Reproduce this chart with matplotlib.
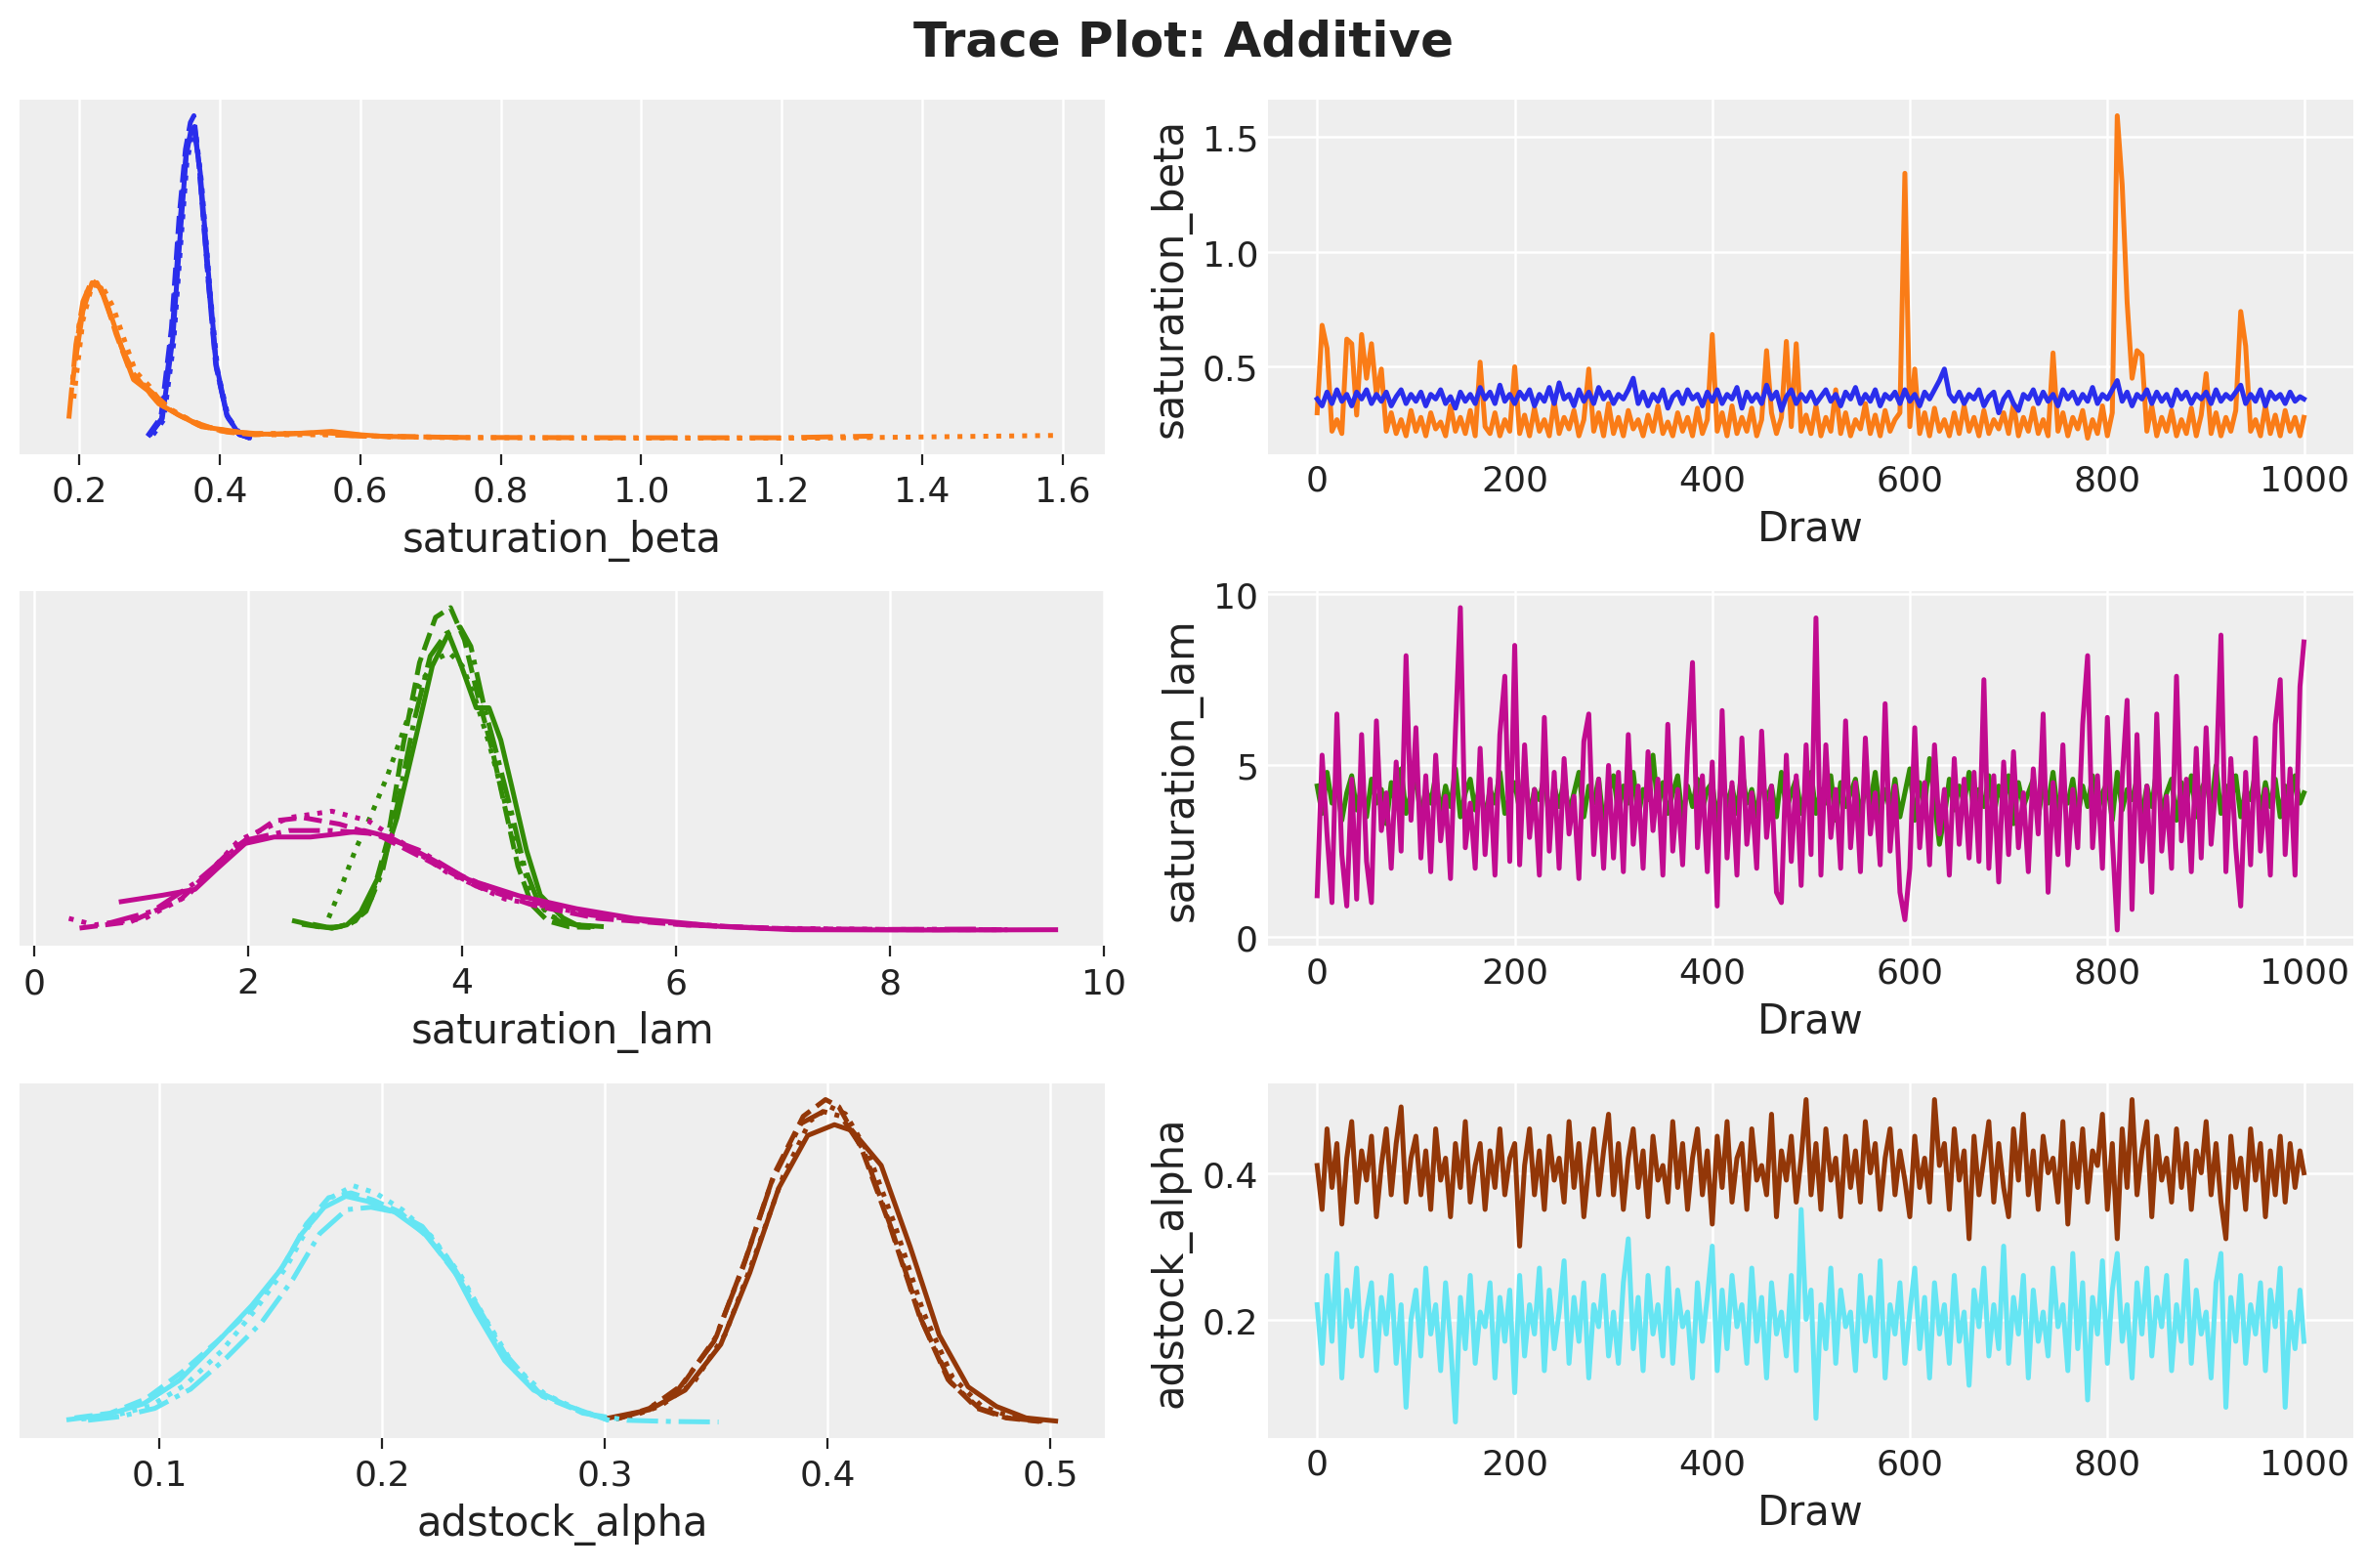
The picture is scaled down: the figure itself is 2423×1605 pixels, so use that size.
import matplotlib
matplotlib.use("Agg")
import matplotlib.pyplot as plt

# chain line styles (4 chains)
chain_styles = ["-", "--", ":", "-."]
colors = ["#2a2eec", "#fa7c17", "#328c06", "#c10c90", "#933708", "#65e5f3"]

var_names = ["saturation_beta", "saturation_lam", "adstock_alpha"]

# ---- KDE curves: per channel, 4 chains of (x, density)
beta_c0_x = [
    [0.300, 0.318, 0.333, 0.344, 0.352, 0.359, 0.364, 0.372, 0.385, 0.395, 0.410, 0.426, 0.440],
    [0.297, 0.316, 0.331, 0.342, 0.351, 0.358, 0.363, 0.370, 0.383, 0.394, 0.410, 0.428, 0.445],
    [0.305, 0.320, 0.334, 0.345, 0.353, 0.360, 0.366, 0.374, 0.386, 0.397, 0.412, 0.430, 0.450],
    [0.300, 0.317, 0.332, 0.343, 0.352, 0.359, 0.364, 0.371, 0.384, 0.395, 0.410, 0.427, 0.442],
]
beta_c0_d = [
    [0.3, 1.5, 7.5, 15.5, 21.0, 23.0, 22.8, 19.8, 11.5, 5.5, 1.8, 0.4, 0.1],
    [0.2, 1.6, 8.2, 16.5, 21.5, 23.5, 24.0, 20.5, 12.0, 5.5, 1.7, 0.3, 0.05],
    [0.3, 1.4, 7.0, 15.0, 20.5, 22.5, 22.6, 19.0, 11.0, 5.0, 1.6, 0.3, 0.05],
    [0.25, 1.5, 7.8, 16.0, 21.2, 22.8, 23.2, 20.0, 11.4, 5.3, 1.7, 0.35, 0.08],
]
beta_c1_x = [
    [0.195, 0.205, 0.218, 0.231, 0.246, 0.262, 0.277, 0.297, 0.313, 0.344, 0.374, 0.415, 0.446, 0.497, 0.559, 0.60, 0.64],
    [0.19, 0.20, 0.212, 0.225, 0.238, 0.252, 0.27, 0.29, 0.31, 0.34, 0.37, 0.41, 0.45, 0.50, 0.55, 0.62, 0.74],
    [0.192, 0.205, 0.218, 0.232, 0.248, 0.265, 0.28, 0.30, 0.32, 0.35, 0.38, 0.42, 0.47, 0.55, 0.70, 0.95, 1.25, 1.59],
    [0.185, 0.195, 0.205, 0.218, 0.23, 0.245, 0.26, 0.28, 0.30, 0.33, 0.36, 0.40, 0.45, 0.52, 0.60, 0.75, 1.0, 1.2, 1.33],
]
beta_c1_d = [
    [6.0, 9.5, 11.6, 11.2, 9.0, 6.5, 4.4, 3.6, 2.6, 1.7, 0.9, 0.6, 0.35, 0.35, 0.55, 0.3, 0.15],
    [4.0, 8.5, 11.2, 11.6, 10.2, 7.8, 5.3, 4.0, 2.8, 1.8, 1.0, 0.5, 0.3, 0.4, 0.45, 0.2, 0.1],
    [3.0, 8.8, 11.4, 11.4, 9.8, 7.2, 5.0, 3.9, 2.4, 1.6, 0.9, 0.5, 0.3, 0.3, 0.1, 0.05, 0.05, 0.25],
    [1.5, 7.0, 10.2, 11.8, 11.2, 9.0, 6.8, 4.6, 3.6, 2.2, 1.3, 0.6, 0.4, 0.4, 0.2, 0.1, 0.08, 0.08, 0.2],
]

lam_c0_x = [
    [2.43, 2.65, 2.78, 2.92, 3.05, 3.22, 3.39, 3.56, 3.72, 3.87, 3.99, 4.13, 4.25, 4.36, 4.46, 4.60, 4.73, 4.94, 5.07, 5.30],
    [2.50, 2.70, 2.85, 3.00, 3.15, 3.30, 3.45, 3.60, 3.75, 3.89, 4.02, 4.15, 4.28, 4.40, 4.52, 4.65, 4.80, 5.00, 5.20],
    [2.75, 2.85, 3.00, 3.15, 3.30, 3.45, 3.60, 3.75, 3.88, 4.00, 4.12, 4.25, 4.38, 4.50, 4.65, 4.80, 5.00, 5.20],
    [2.60, 2.78, 2.95, 3.10, 3.25, 3.40, 3.55, 3.70, 3.85, 3.98, 4.08, 4.20, 4.32, 4.45, 4.58, 4.72, 4.90, 5.10, 5.28],
]
lam_c0_d = [
    [0.03, 0.013, 0.008, 0.018, 0.058, 0.17, 0.35, 0.59, 0.82, 0.92, 0.82, 0.69, 0.69, 0.59, 0.45, 0.25, 0.11, 0.04, 0.018, 0.013],
    [0.02, 0.01, 0.012, 0.03, 0.10, 0.28, 0.58, 0.83, 0.97, 1.0, 0.90, 0.72, 0.56, 0.38, 0.20, 0.08, 0.03, 0.012, 0.01],
    [0.04, 0.12, 0.25, 0.36, 0.48, 0.62, 0.76, 0.84, 0.86, 0.82, 0.72, 0.58, 0.42, 0.26, 0.12, 0.05, 0.02, 0.015],
    [0.02, 0.008, 0.02, 0.06, 0.18, 0.40, 0.65, 0.85, 0.92, 0.94, 0.88, 0.70, 0.55, 0.38, 0.20, 0.08, 0.03, 0.015, 0.012],
]
lam_c1_x = [
    [0.81, 1.20, 1.50, 1.70, 1.97, 2.24, 2.58, 2.85, 3.08, 3.32, 3.72, 4.06, 4.53, 5.07, 5.61, 6.42, 7.09, 8.44, 9.55],
    [0.42, 0.90, 1.37, 1.84, 2.24, 2.51, 2.85, 3.25, 3.72, 4.13, 4.67, 5.27, 6.08, 7.2, 8.3, 9.1],
    [0.32, 0.56, 1.03, 1.43, 1.91, 2.38, 2.78, 3.12, 3.45, 3.86, 4.40, 5.07, 5.74, 6.75, 8.0, 9.1],
    [0.69, 1.10, 1.50, 1.97, 2.38, 2.78, 3.19, 3.59, 3.99, 4.53, 5.21, 6.08, 7.0, 8.0, 8.84],
]
lam_c1_d = [
    [0.09, 0.11, 0.128, 0.19, 0.27, 0.29, 0.29, 0.30, 0.31, 0.29, 0.22, 0.158, 0.108, 0.068, 0.038, 0.013, 0.003, 0.002, 0.003],
    [0.008, 0.028, 0.098, 0.25, 0.34, 0.35, 0.33, 0.29, 0.21, 0.138, 0.078, 0.038, 0.018, 0.004, 0.003, 0.003],
    [0.038, 0.018, 0.038, 0.108, 0.28, 0.35, 0.37, 0.34, 0.27, 0.18, 0.098, 0.058, 0.028, 0.008, 0.004, 0.003],
    [0.023, 0.06, 0.148, 0.28, 0.31, 0.31, 0.30, 0.25, 0.17, 0.098, 0.048, 0.018, 0.006, 0.004, 0.005],
]

alpha_c0_x = [
    [0.302, 0.32, 0.336, 0.352, 0.365, 0.378, 0.391, 0.403, 0.411, 0.424, 0.437, 0.45, 0.463, 0.4757, 0.489, 0.5023],
    [0.305, 0.32, 0.335, 0.35, 0.363, 0.376, 0.389, 0.399, 0.405, 0.415, 0.428, 0.441, 0.454, 0.467, 0.48, 0.495],
    [0.31, 0.325, 0.34, 0.354, 0.367, 0.38, 0.392, 0.401, 0.408, 0.418, 0.43, 0.443, 0.456, 0.469, 0.482, 0.5],
    [0.305, 0.318, 0.333, 0.349, 0.362, 0.375, 0.388, 0.398, 0.406, 0.416, 0.429, 0.442, 0.455, 0.468, 0.481, 0.496],
]
alpha_c0_d = [
    [0.2, 0.54, 1.36, 3.27, 6.26, 9.8, 12.0, 12.45, 12.2, 10.75, 7.35, 3.67, 1.5, 0.68, 0.2, 0.07],
    [0.15, 0.6, 1.6, 3.6, 6.8, 10.4, 12.8, 13.5, 13.2, 11.5, 8.2, 4.5, 1.8, 0.6, 0.2, 0.05],
    [0.2, 0.7, 1.7, 3.7, 6.9, 10.3, 12.6, 13.2, 12.9, 11.3, 8.3, 4.6, 1.9, 0.7, 0.25, 0.05],
    [0.15, 0.5, 1.4, 3.4, 6.5, 10.1, 12.5, 13.0, 12.8, 11.4, 8.0, 4.3, 1.7, 0.6, 0.2, 0.06],
]
alpha_c1_x = [
    [0.0594, 0.0766, 0.0929, 0.109, 0.125, 0.1415, 0.1545, 0.164, 0.174, 0.1837, 0.1934, 0.206, 0.219, 0.232, 0.242, 0.255, 0.268, 0.284, 0.3005],
    [0.062, 0.078, 0.094, 0.11, 0.126, 0.142, 0.156, 0.166, 0.176, 0.186, 0.196, 0.208, 0.221, 0.234, 0.245, 0.258, 0.272, 0.288, 0.302],
    [0.065, 0.08, 0.096, 0.112, 0.128, 0.143, 0.157, 0.167, 0.177, 0.187, 0.197, 0.209, 0.222, 0.235, 0.246, 0.259, 0.273, 0.289, 0.300],
    [0.068, 0.082, 0.098, 0.114, 0.13, 0.146, 0.16, 0.172, 0.184, 0.195, 0.206, 0.218, 0.23, 0.242, 0.255, 0.27, 0.29, 0.31, 0.33, 0.351],
]
alpha_c1_d = [
    [0.13, 0.33, 0.79, 1.77, 3.27, 4.9, 6.4, 7.9, 9.0, 9.46, 9.25, 8.78, 7.9, 6.4, 4.63, 2.59, 1.36, 0.68, 0.136],
    [0.2, 0.4, 1.0, 2.1, 3.4, 4.8, 6.6, 8.3, 9.4, 9.6, 9.3, 8.8, 7.7, 6.1, 4.3, 2.3, 1.1, 0.5, 0.1],
    [0.15, 0.3, 0.7, 1.6, 3.0, 4.7, 6.5, 8.2, 9.4, 9.9, 9.6, 8.9, 7.8, 6.2, 4.4, 2.4, 1.2, 0.5, 0.2],
    [0.1, 0.25, 0.6, 1.4, 2.7, 4.2, 6.0, 7.9, 8.9, 9.0, 8.8, 8.2, 6.8, 5.0, 2.9, 1.3, 0.4, 0.1, 0.05, 0.03],
]

# ---- traces (values every 5 draws, last at draw 999)
draws = list(range(0, 1000, 5)) + [999]

beta_c0_trace = [
    0.36, 0.33, 0.39, 0.34, 0.40, 0.35, 0.38, 0.33, 0.39, 0.36, 0.40, 0.34, 0.38, 0.35, 0.39, 0.33, 0.37, 0.40, 0.34, 0.38,
    0.35, 0.39, 0.33, 0.38, 0.36, 0.40, 0.34, 0.37, 0.32, 0.39, 0.35, 0.38, 0.34, 0.41, 0.36, 0.39, 0.34, 0.42, 0.35, 0.38,
    0.34, 0.39, 0.36, 0.40, 0.33, 0.38, 0.35, 0.41, 0.34, 0.43, 0.36, 0.38, 0.33, 0.40, 0.35, 0.39, 0.34, 0.41, 0.36, 0.39,
    0.34, 0.38, 0.36, 0.40, 0.45, 0.34, 0.39, 0.33, 0.38, 0.35, 0.40, 0.32, 0.37, 0.39, 0.34, 0.40, 0.36, 0.38, 0.33, 0.39,
    0.35, 0.40, 0.34, 0.38, 0.36, 0.41, 0.32, 0.39, 0.35, 0.38, 0.34, 0.42, 0.36, 0.39, 0.31, 0.37, 0.40, 0.34, 0.38, 0.35,
    0.39, 0.34, 0.37, 0.40, 0.35, 0.38, 0.33, 0.39, 0.36, 0.41, 0.34, 0.38, 0.35, 0.40, 0.33, 0.38, 0.36, 0.39, 0.34, 0.40,
    0.35, 0.38, 0.33, 0.39, 0.36, 0.40, 0.44, 0.49, 0.38, 0.35, 0.39, 0.34, 0.38, 0.36, 0.40, 0.33, 0.37, 0.39, 0.30, 0.36,
    0.39, 0.34, 0.31, 0.38, 0.36, 0.40, 0.34, 0.39, 0.35, 0.38, 0.33, 0.40, 0.36, 0.39, 0.34, 0.38, 0.35, 0.41, 0.34, 0.38,
    0.36, 0.40, 0.44, 0.35, 0.39, 0.33, 0.38, 0.36, 0.40, 0.34, 0.39, 0.35, 0.38, 0.33, 0.40, 0.36, 0.39, 0.34, 0.38, 0.36,
    0.39, 0.34, 0.40, 0.35, 0.38, 0.36, 0.39, 0.42, 0.34, 0.38, 0.35, 0.40, 0.33, 0.39, 0.36, 0.38, 0.34, 0.39, 0.35, 0.37,
    0.36,
]
beta_c1_trace = [
    0.30, 0.68, 0.58, 0.22, 0.27, 0.21, 0.62, 0.60, 0.29, 0.64, 0.45, 0.60, 0.38, 0.49, 0.22, 0.30, 0.21, 0.27, 0.20, 0.31,
    0.22, 0.28, 0.20, 0.30, 0.23, 0.26, 0.20, 0.33, 0.22, 0.28, 0.21, 0.31, 0.20, 0.52, 0.24, 0.21, 0.30, 0.20, 0.27, 0.22,
    0.50, 0.21, 0.29, 0.20, 0.32, 0.22, 0.27, 0.20, 0.35, 0.21, 0.28, 0.23, 0.31, 0.20, 0.27, 0.49, 0.22, 0.30, 0.20, 0.34,
    0.21, 0.28, 0.20, 0.31, 0.23, 0.27, 0.20, 0.29, 0.22, 0.33, 0.21, 0.26, 0.20, 0.30, 0.22, 0.28, 0.20, 0.32, 0.21, 0.27,
    0.64, 0.22, 0.30, 0.20, 0.33, 0.21, 0.28, 0.22, 0.32, 0.20, 0.27, 0.57, 0.30, 0.21, 0.28, 0.61, 0.24, 0.60, 0.22, 0.29,
    0.21, 0.33, 0.20, 0.28, 0.22, 0.40, 0.21, 0.30, 0.20, 0.27, 0.23, 0.34, 0.21, 0.29, 0.20, 0.31, 0.22, 0.27, 0.30, 1.34,
    0.24, 0.49, 0.21, 0.30, 0.20, 0.32, 0.22, 0.27, 0.20, 0.30, 0.21, 0.33, 0.22, 0.28, 0.20, 0.31, 0.21, 0.27, 0.23, 0.30,
    0.21, 0.34, 0.20, 0.28, 0.22, 0.32, 0.21, 0.27, 0.20, 0.56, 0.22, 0.30, 0.20, 0.28, 0.23, 0.31, 0.19, 0.27, 0.21, 0.33,
    0.20, 0.30, 1.59, 1.29, 0.78, 0.45, 0.57, 0.55, 0.22, 0.33, 0.20, 0.28, 0.22, 0.31, 0.20, 0.27, 0.21, 0.32, 0.20, 0.29,
    0.47, 0.21, 0.30, 0.20, 0.28, 0.22, 0.31, 0.74, 0.59, 0.22, 0.27, 0.20, 0.33, 0.21, 0.29, 0.20, 0.31, 0.22, 0.28, 0.20,
    0.28,
]
lam_c0_trace = [
    4.4, 3.6, 4.8, 3.9, 4.5, 3.4, 4.2, 4.7, 3.7, 4.4, 3.5, 4.6, 3.9, 4.3, 3.3, 4.5, 3.8, 4.9, 3.6, 4.2,
    4.6, 3.5, 4.3, 3.9, 4.7, 3.6, 4.4, 3.8, 4.9, 3.5, 4.2, 4.6, 3.7, 4.5, 3.4, 4.3, 3.9, 4.8, 3.6, 4.1,
    4.5, 3.7, 4.9, 3.5, 4.3, 4.0, 4.7, 3.4, 4.4, 3.8, 4.6, 3.6, 4.2, 4.8, 3.5, 4.4, 3.9, 4.6, 3.3, 4.2,
    4.7, 3.6, 4.4, 3.9, 4.8, 3.5, 4.3, 4.0, 5.3, 3.7, 4.5, 3.6, 4.2, 4.7, 3.4, 4.4, 3.8, 4.6, 3.7, 4.3,
    4.5, 3.3, 4.7, 3.8, 4.4, 3.6, 4.9, 3.9, 4.3, 3.5, 4.6, 4.0, 4.4, 3.5, 4.8, 3.7, 4.2, 4.6, 3.6, 4.4,
    4.8, 3.6, 4.3, 3.9, 4.7, 3.4, 4.5, 3.8, 4.2, 4.6, 3.5, 4.4, 3.9, 4.8, 3.6, 4.3, 3.7, 4.6, 3.5, 4.2,
    4.9, 3.4, 4.5, 3.8, 5.2, 3.9, 2.7, 3.5, 4.6, 3.7, 4.4, 3.9, 4.8, 3.6, 4.3, 3.8, 4.7, 3.5, 4.4, 3.9,
    4.7, 3.3, 4.5, 3.8, 4.2, 4.6, 3.5, 4.4, 3.9, 4.8, 3.6, 4.3, 3.9, 4.6, 3.5, 4.4, 3.8, 4.7, 3.6, 4.2,
    4.5, 3.4, 4.8, 3.7, 4.3, 4.0, 4.6, 3.5, 4.4, 3.8, 4.9, 3.6, 4.2, 4.6, 3.4, 4.5, 3.9, 4.7, 3.5, 4.3,
    4.6, 3.7, 5.0, 3.6, 4.4, 3.9, 4.7, 3.5, 4.3, 4.0, 4.8, 3.6, 4.5, 3.8, 4.6, 3.5, 4.4, 3.9, 4.7, 3.9,
    4.2,
]
lam_c1_trace = [
    1.2, 5.3, 3.0, 1.0, 6.5, 2.4, 0.9, 4.6, 1.1, 5.9, 2.2, 1.0, 6.3, 3.1, 4.2, 2.0, 5.1, 2.5, 8.2, 3.4,
    6.1, 2.3, 4.7, 1.9, 5.3, 2.8, 4.1, 1.7, 6.0, 9.6, 2.6, 3.9, 2.0, 5.5, 2.4, 4.6, 1.8, 5.9, 7.6, 2.2,
    8.5, 2.1, 5.6, 2.9, 4.3, 1.8, 6.4, 2.5, 4.8, 2.0, 5.2, 3.0, 4.1, 1.7, 5.7, 6.5, 2.4, 4.6, 2.0, 5.0,
    2.3, 4.8, 1.9, 5.9, 2.7, 4.4, 2.0, 5.4, 3.1, 4.6, 1.8, 6.2, 2.5, 4.3, 2.1, 5.5, 8.0, 2.6, 4.7, 1.9,
    5.1, 0.9, 6.6, 2.3, 4.5, 1.8, 5.8, 2.7, 4.2, 2.0, 6.0, 2.9, 4.4, 1.3, 1.0, 5.3, 2.2, 4.7, 1.5, 5.6,
    2.4, 9.3, 1.8, 5.6, 2.9, 4.3, 2.0, 6.3, 2.6, 4.5, 1.9, 5.8, 3.0, 4.2, 2.1, 6.8, 2.5, 4.4, 1.3, 0.5,
    2.0, 6.1, 2.6, 4.5, 2.1, 5.6, 3.0, 4.3, 1.8, 5.2, 2.7, 4.6, 2.3, 4.8, 2.2, 7.5, 2.0, 4.7, 1.6, 5.1,
    2.4, 5.4, 2.6, 4.2, 1.9, 4.9, 3.0, 6.5, 1.3, 4.5, 2.4, 5.6, 2.1, 4.3, 2.6, 6.2, 8.2, 2.6, 4.7, 2.0,
    6.4, 2.9, 0.2, 4.6, 6.9, 0.8, 5.9, 2.2, 4.4, 1.3, 6.5, 2.5, 4.1, 2.0, 7.6, 2.8, 4.6, 1.9, 5.5, 2.3,
    6.1, 2.7, 4.5, 8.8, 1.9, 5.2, 2.6, 0.9, 4.8, 2.1, 5.8, 2.5, 4.3, 1.8, 6.2, 7.5, 2.4, 4.9, 1.8, 7.3,
    8.6,
]
alpha_c0_trace = [
    0.41, 0.35, 0.46, 0.38, 0.44, 0.33, 0.42, 0.47, 0.36, 0.43, 0.39, 0.45, 0.34, 0.41, 0.46, 0.37, 0.44, 0.49, 0.36, 0.42,
    0.45, 0.37, 0.43, 0.35, 0.46, 0.39, 0.42, 0.34, 0.44, 0.38, 0.47, 0.36, 0.41, 0.44, 0.35, 0.43, 0.38, 0.46, 0.37, 0.42,
    0.44, 0.30, 0.41, 0.46, 0.37, 0.43, 0.35, 0.45, 0.39, 0.42, 0.36, 0.47, 0.38, 0.44, 0.34, 0.41, 0.46, 0.37, 0.43, 0.48,
    0.37, 0.44, 0.35, 0.42, 0.46, 0.38, 0.43, 0.34, 0.45, 0.39, 0.41, 0.36, 0.47, 0.38, 0.44, 0.35, 0.42, 0.46, 0.37, 0.43,
    0.33, 0.45, 0.38, 0.47, 0.36, 0.42, 0.44, 0.35, 0.46, 0.39, 0.41, 0.37, 0.48, 0.34, 0.43, 0.39, 0.45, 0.36, 0.42, 0.50,
    0.37, 0.44, 0.35, 0.46, 0.39, 0.42, 0.34, 0.45, 0.38, 0.43, 0.36, 0.47, 0.40, 0.44, 0.35, 0.42, 0.46, 0.37, 0.43, 0.39,
    0.34, 0.45, 0.38, 0.42, 0.36, 0.50, 0.41, 0.44, 0.35, 0.46, 0.39, 0.43, 0.31, 0.45, 0.37, 0.42, 0.47, 0.36, 0.44, 0.38,
    0.34, 0.46, 0.39, 0.48, 0.37, 0.43, 0.35, 0.45, 0.40, 0.42, 0.36, 0.47, 0.33, 0.44, 0.38, 0.46, 0.36, 0.43, 0.41, 0.48,
    0.35, 0.44, 0.31, 0.46, 0.38, 0.50, 0.37, 0.43, 0.47, 0.34, 0.45, 0.39, 0.42, 0.36, 0.46, 0.38, 0.44, 0.35, 0.43, 0.40,
    0.47, 0.37, 0.44, 0.36, 0.31, 0.45, 0.38, 0.42, 0.35, 0.46, 0.39, 0.44, 0.34, 0.43, 0.37, 0.45, 0.36, 0.44, 0.38, 0.43,
    0.40,
]
alpha_c1_trace = [
    0.22, 0.14, 0.26, 0.17, 0.29, 0.12, 0.24, 0.19, 0.27, 0.15, 0.21, 0.25, 0.13, 0.23, 0.18, 0.26, 0.14, 0.22, 0.08, 0.20,
    0.24, 0.15, 0.27, 0.18, 0.22, 0.13, 0.25, 0.17, 0.06, 0.23, 0.16, 0.26, 0.14, 0.21, 0.19, 0.25, 0.12, 0.23, 0.17, 0.24,
    0.10, 0.26, 0.15, 0.22, 0.18, 0.27, 0.13, 0.24, 0.16, 0.21, 0.28, 0.14, 0.23, 0.17, 0.25, 0.12, 0.22, 0.19, 0.26, 0.15,
    0.21, 0.14, 0.25, 0.31, 0.16, 0.23, 0.13, 0.26, 0.18, 0.22, 0.15, 0.27, 0.14, 0.24, 0.19, 0.21, 0.12, 0.25, 0.17, 0.23,
    0.30, 0.13, 0.24, 0.16, 0.26, 0.19, 0.22, 0.14, 0.27, 0.17, 0.23, 0.12, 0.25, 0.18, 0.21, 0.15, 0.26, 0.13, 0.35, 0.20,
    0.24, 0.065, 0.22, 0.16, 0.27, 0.14, 0.24, 0.19, 0.21, 0.13, 0.26, 0.17, 0.23, 0.15, 0.28, 0.12, 0.22, 0.18, 0.25, 0.14,
    0.21, 0.27, 0.16, 0.23, 0.12, 0.25, 0.18, 0.22, 0.14, 0.26, 0.17, 0.21, 0.11, 0.24, 0.19, 0.27, 0.15, 0.22, 0.16, 0.30,
    0.14, 0.23, 0.18, 0.26, 0.12, 0.24, 0.17, 0.21, 0.15, 0.27, 0.19, 0.22, 0.13, 0.29, 0.16, 0.25, 0.09, 0.23, 0.18, 0.28,
    0.14, 0.24, 0.29, 0.17, 0.22, 0.12, 0.25, 0.18, 0.27, 0.15, 0.23, 0.19, 0.26, 0.13, 0.22, 0.17, 0.28, 0.14, 0.24, 0.18,
    0.21, 0.12, 0.25, 0.29, 0.08, 0.23, 0.17, 0.26, 0.14, 0.22, 0.18, 0.25, 0.13, 0.24, 0.19, 0.27, 0.08, 0.21, 0.16, 0.24,
    0.17,
]

kde_data = [
    [(beta_c0_x, beta_c0_d), (beta_c1_x, beta_c1_d)],
    [(lam_c0_x, lam_c0_d), (lam_c1_x, lam_c1_d)],
    [(alpha_c0_x, alpha_c0_d), (alpha_c1_x, alpha_c1_d)],
]
# drawing order in each trace panel (channel index)
trace_data = [
    [beta_c0_trace, beta_c1_trace],
    [lam_c0_trace, lam_c1_trace],
    [alpha_c0_trace, alpha_c1_trace],
]
trace_order = [[1, 0], [0, 1], [0, 1]]

plt.rcParams.update({
    "font.family": "DejaVu Sans",
    "axes.facecolor": "#eeeeee",
    "axes.edgecolor": "#eeeeee",
    "axes.linewidth": 0,
    "grid.color": "white",
    "grid.linewidth": 0.9,
    "text.color": "#222222",
    "axes.labelcolor": "#222222",
    "xtick.color": "#222222",
    "ytick.color": "#222222",
})

fig, axes = plt.subplots(3, 2, figsize=(12.115, 8.03), dpi=200)
fig.subplots_adjust(left=0.00825, right=0.9942, top=0.9359, bottom=0.0828,
                    wspace=0.150, hspace=0.387)
lw = 1.8

for row, name in enumerate(var_names):
    ax_k, ax_t = axes[row]
    # KDE panel
    for ch, (xs, ds) in enumerate(kde_data[row]):
        col = colors[2 * row + ch]
        for c in range(4):
            ax_k.plot(xs[c], ds[c], color=col, ls=chain_styles[c], lw=lw)
    ax_k.set_yticks([])
    ax_k.grid(True, axis="x")
    ax_k.set_axisbelow(True)
    ax_k.set_xlabel(name, fontsize=15)
    ax_k.tick_params(axis="x", labelsize=13, length=4, width=0.8, color="#222222")
    for s in ax_k.spines.values():
        s.set_visible(False)

    # trace panel
    for ch in trace_order[row]:
        ax_t.plot(draws, trace_data[row][ch], color=colors[2 * row + ch], lw=lw)
    ax_t.grid(True)
    ax_t.set_axisbelow(True)
    ax_t.set_xlabel("Draw", fontsize=15)
    ax_t.set_ylabel(name, fontsize=15)
    ax_t.tick_params(labelsize=13, length=0)
    for s in ax_t.spines.values():
        s.set_visible(False)

axes[0][0].set_xticks([0.2, 0.4, 0.6, 0.8, 1.0, 1.2, 1.4, 1.6])
axes[0][1].set_yticks([0.5, 1.0, 1.5])
axes[1][0].set_xticks([0, 2, 4, 6, 8, 10])
axes[1][1].set_yticks([0, 5, 10])
axes[2][0].set_xticks([0.1, 0.2, 0.3, 0.4, 0.5])
axes[2][1].set_yticks([0.2, 0.4])
for r in range(3):
    axes[r][1].set_xticks([0, 200, 400, 600, 800, 1000])

fig.text(0.5, 0.9639, "Trace Plot: Additive", ha="center", va="baseline",
         fontsize=18, fontweight="bold")

fig.savefig("out.png", dpi=200)
